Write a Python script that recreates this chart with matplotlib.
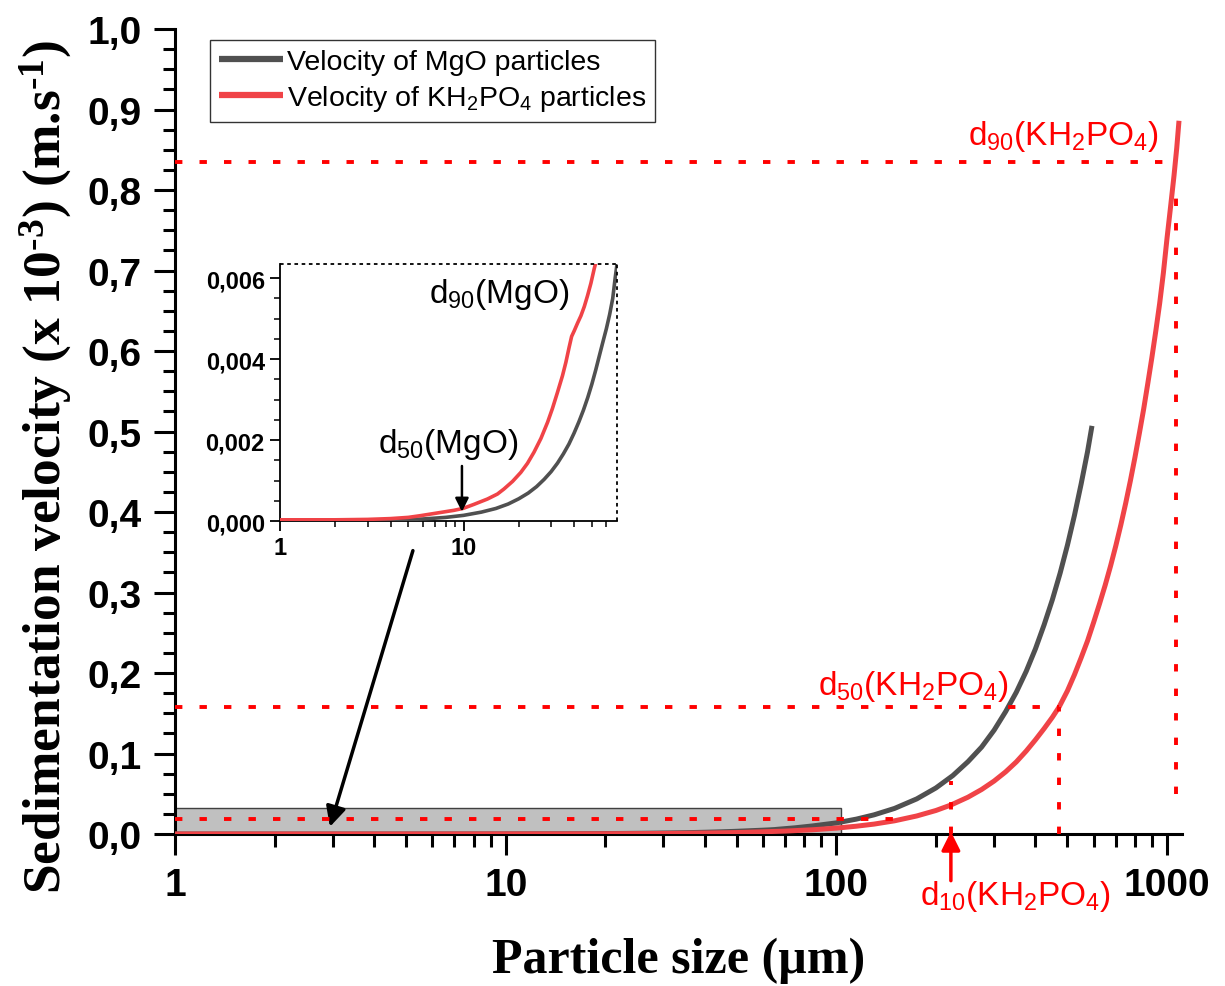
import matplotlib
matplotlib.use('Agg')
import matplotlib.pyplot as plt
from matplotlib.patches import Rectangle
from matplotlib.ticker import LogLocator, NullFormatter, MultipleLocator

plt.rcParams['font.family'] = ['Liberation Sans', 'DejaVu Sans']
plt.rcParams['mathtext.default'] = 'regular'

# sedimentation velocity (x 1e-3 m/s) vs particle size (um)
mgo_size = [1, 2, 3, 4, 6, 8, 10, 12.5, 15, 17.5, 20, 22.5, 25, 27.5, 30, 32.5, 35,
            37.5, 40, 42.5, 45, 47.5, 50, 52.5, 55, 57.5, 60, 62.5, 65, 67, 68.6,
            75, 85, 100, 115, 130, 150, 175, 200, 225, 250, 275, 300, 325, 350,
            375, 400, 425, 450, 475, 500, 525, 550, 575, 593]
mgo_vel = [0.0000014, 0.0000055, 0.000012, 0.000022, 0.00005, 0.00009, 0.00014,
           0.00022, 0.00031, 0.00042, 0.00055, 0.00069, 0.00085, 0.00103, 0.00122,
           0.00143, 0.00166, 0.0019, 0.00217, 0.00245, 0.00274, 0.00305, 0.00338,
           0.00373, 0.00409, 0.00443, 0.00475, 0.0051, 0.0055, 0.006, 0.00635,
           0.0077, 0.0101, 0.0138, 0.0185, 0.0238, 0.0318, 0.0436, 0.0572, 0.0726,
           0.0898, 0.108, 0.129, 0.152, 0.176, 0.202, 0.230, 0.260, 0.291, 0.324,
           0.359, 0.396, 0.435, 0.475, 0.507]

kdp_size = [1, 3, 5, 7, 10, 15, 20, 30, 40, 50, 70, 85, 100, 115, 130, 150, 175,
            200, 222, 250, 275, 300, 325, 350, 375, 400, 425, 450, 472, 500, 525,
            550, 575, 600, 625, 650, 675, 700, 725, 750, 775, 800, 825, 850, 875,
            900, 925, 950, 975, 1000, 1025, 1050, 1070, 1087]
kdp_vel = [0.0000007, 0.0000066, 0.000018, 0.000036, 0.000073, 0.00016, 0.00029,
           0.00066, 0.0012, 0.0018, 0.0036, 0.0053, 0.0073, 0.0097, 0.0123, 0.0164,
           0.0224, 0.0292, 0.036, 0.0457, 0.0553, 0.0658, 0.0772, 0.0895, 0.103,
           0.117, 0.131, 0.145, 0.158, 0.178, 0.198, 0.219, 0.240, 0.263, 0.286,
           0.309, 0.333, 0.358, 0.384, 0.411, 0.439, 0.468, 0.498, 0.528, 0.560,
           0.592, 0.625, 0.659, 0.697, 0.740, 0.779, 0.818, 0.852, 0.886]

# KH2PO4 curve shown in the zoomed panel
kdp_zoom_size = [1, 2, 3, 4, 5, 5.82, 7.18, 8.86, 9.96, 11.4, 13.5, 15.3, 16.6,
                 18.5, 20.5, 22.3, 24.2, 26.4, 28.7, 30.5, 32.5, 34.6, 36.1, 37.6,
                 38.8, 40.1, 41.8, 43.6, 45.5, 47.4, 49.4, 51.5, 53.8]
kdp_zoom_vel = [0.00003, 0.00003, 0.00004, 0.00006, 0.00009, 0.000132, 0.000198,
                0.000264, 0.000313, 0.000412, 0.000544, 0.000667, 0.000791, 0.00098,
                0.0012, 0.001425, 0.0017, 0.00204, 0.00244, 0.00278, 0.00318,
                0.00359, 0.00392, 0.00429, 0.00456, 0.0047, 0.00489, 0.00507,
                0.0053, 0.00557, 0.00587, 0.00623, 0.00656]

# characteristic diameters
kdp_d10, kdp_d10_v = 222, 0.066
kdp_d10_h, kdp_d10_hv = 166, 0.0186
kdp_d50, kdp_d50_v = 472, 0.158
kdp_d90, kdp_d90_v, kdp_d90_low = 1062, 0.835, 0.05
kdp_d90_top = 0.79
mgo_d50, mgo_d50_v = 9.8, 0.00023
mgo_d90, mgo_d90_v = 68.6, 0.00635

# zoom window
box_x, box_y = 103.5, 0.032

GREY = '#505050'
RED = '#f04347'
PURE_RED = '#ff0000'

fig = plt.figure(figsize=(12.25, 9.87), dpi=100)
ax = fig.add_axes([0.1429, 0.154, 0.822, 0.8156])

ax.add_patch(Rectangle((1, 0), box_x - 1, box_y, facecolor='#c0c0c0',
                       edgecolor='#404040', lw=1.0, zorder=1))

ax.plot(mgo_size, mgo_vel, color=GREY, lw=3.6, zorder=3,
        label='Velocity of MgO particles', solid_capstyle='butt')
ax.plot(kdp_size, kdp_vel, color=RED, lw=3.6, zorder=3,
        label='Velocity of KH$_2$PO$_4$ particles', solid_capstyle='butt')

dot = dict(color=PURE_RED, lw=2.8, dashes=(1.9, 4.4), zorder=4)
ax.plot([1, kdp_d90], [kdp_d90_v, kdp_d90_v], **dot)
ax.plot([kdp_d90, kdp_d90], [kdp_d90_low, kdp_d90_top], **dot)
ax.plot([1, kdp_d50], [kdp_d50_v, kdp_d50_v], **dot)
ax.plot([kdp_d50, kdp_d50], [0, kdp_d50_v], **dot)
ax.plot([1, kdp_d10_h], [kdp_d10_hv, kdp_d10_hv], **dot)
ax.plot([kdp_d10, kdp_d10], [0, kdp_d10_v], **dot)

lab_fs = 24
ax.text(946, 0.857, 'd$_{90}$(KH$_2$PO$_4$)', color=PURE_RED, fontsize=lab_fs,
        ha='right', va='baseline')
ax.text(333, 0.174, 'd$_{50}$(KH$_2$PO$_4$)', color=PURE_RED, fontsize=lab_fs,
        ha='right', va='baseline')
ax.text(347, -0.077, 'd$_{10}$(KH$_2$PO$_4$)', color=PURE_RED, fontsize=lab_fs,
        ha='center', va='center', clip_on=False)
ax.annotate('', xy=(kdp_d10, 0.003), xytext=(kdp_d10, -0.058),
            arrowprops=dict(arrowstyle='-|>', color=PURE_RED, lw=2.5,
                            mutation_scale=28, shrinkA=0, shrinkB=0),
            annotation_clip=False)

# arrow from the zoom window to the inset
ax.annotate('', xy=(2.94, 0.009), xytext=(5.24, 0.352),
            arrowprops=dict(arrowstyle='-|>', color='black', lw=2.5,
                            mutation_scale=30, shrinkA=0, shrinkB=0))

ax.set_xscale('log')
ax.set_xlim(1, 1110)
ax.set_ylim(0, 1.0)
ax.set_xticks([1, 10, 100, 1000])
ax.set_xticklabels(['1', '10', '100', '1000'], fontweight='bold')
ax.xaxis.set_minor_locator(LogLocator(base=10, subs=range(2, 10), numticks=20))
ax.xaxis.set_minor_formatter(NullFormatter())
yt = [i / 10 for i in range(11)]
ax.set_yticks(yt)
ax.set_yticklabels([f'{v:.1f}'.replace('.', ',') for v in yt], fontweight='bold')
ax.yaxis.set_minor_locator(MultipleLocator(0.025))
ax.tick_params(which='major', length=15, width=2.2, labelsize=28, pad=9)
ax.tick_params(which='minor', length=9, width=2.2)
for s in ['top', 'right']:
    ax.spines[s].set_visible(False)
for s in ['left', 'bottom']:
    ax.spines[s].set_linewidth(2.2)

ax.set_xlabel('Particle size (µm)', family='Liberation Serif', fontweight='bold',
              fontsize=36)
ax.xaxis.set_label_coords(0.5, -0.128)
ax.set_ylabel('Sedimentation velocity (x 10$^{\u20103}$) (m.s$^{\u20101}$)',
              family='Liberation Serif', fontweight='bold', fontsize=38.5)
ax.yaxis.set_label_coords(-0.10, 0.457)

leg = ax.legend(loc='upper left', bbox_to_anchor=(0.035, 0.986), borderaxespad=0,
                fontsize=20.5, frameon=True, fancybox=False, edgecolor='black',
                handlelength=2.25, handletextpad=0.12, borderpad=0.32,
                labelspacing=0.25)
leg.get_frame().set_linewidth(1.0)
for h in leg.legend_handles:
    h.set_linewidth(4.5)

# inset: low-size region
ins = fig.add_axes([0.2286, 0.4711, 0.2751, 0.2604])
ins.plot(mgo_size, mgo_vel, color=GREY, lw=2.6, zorder=3)
ins.plot(kdp_zoom_size, kdp_zoom_vel, color=RED, lw=2.6, zorder=3)
dash = dict(color='black', lw=1.3, dashes=(2, 2), clip_on=False, zorder=4)
ins.plot([1, mgo_d90], [mgo_d90_v, mgo_d90_v], **dash)
ins.plot([mgo_d90, mgo_d90], [0, mgo_d90_v], **dash)
ins.text(37.5, 0.0054, 'd$_{90}$(MgO)', fontsize=lab_fs, ha='right', va='baseline')
ins.text(20.0, 0.0017, 'd$_{50}$(MgO)', fontsize=lab_fs, ha='right', va='baseline')
ins.annotate('', xy=(mgo_d50, mgo_d50_v), xytext=(mgo_d50, 0.00136),
             arrowprops=dict(arrowstyle='-|>', color='black', lw=1.8,
                             mutation_scale=20, shrinkA=0, shrinkB=0))
ins.set_xscale('log')
ins.set_xlim(1, mgo_d90)
ins.set_ylim(0, mgo_d90_v)
ins.set_xticks([1, 10])
ins.set_xticklabels(['1', '10'], fontweight='bold')
ins.xaxis.set_minor_locator(LogLocator(base=10, subs=range(2, 10), numticks=20))
ins.xaxis.set_minor_formatter(NullFormatter())
iyt = [0.0, 0.002, 0.004, 0.006]
ins.set_yticks(iyt)
ins.set_yticklabels([f'{v:.3f}'.replace('.', ',') for v in iyt], fontweight='bold')
ins.yaxis.set_minor_locator(MultipleLocator(0.0005))
ins.tick_params(which='major', length=7, width=1.3, labelsize=17, pad=4)
ins.tick_params(which='minor', length=4, width=1.1)
for s in ['top', 'right']:
    ins.spines[s].set_visible(False)
for s in ['left', 'bottom']:
    ins.spines[s].set_linewidth(1.3)

fig.savefig('out.png', dpi=100)
